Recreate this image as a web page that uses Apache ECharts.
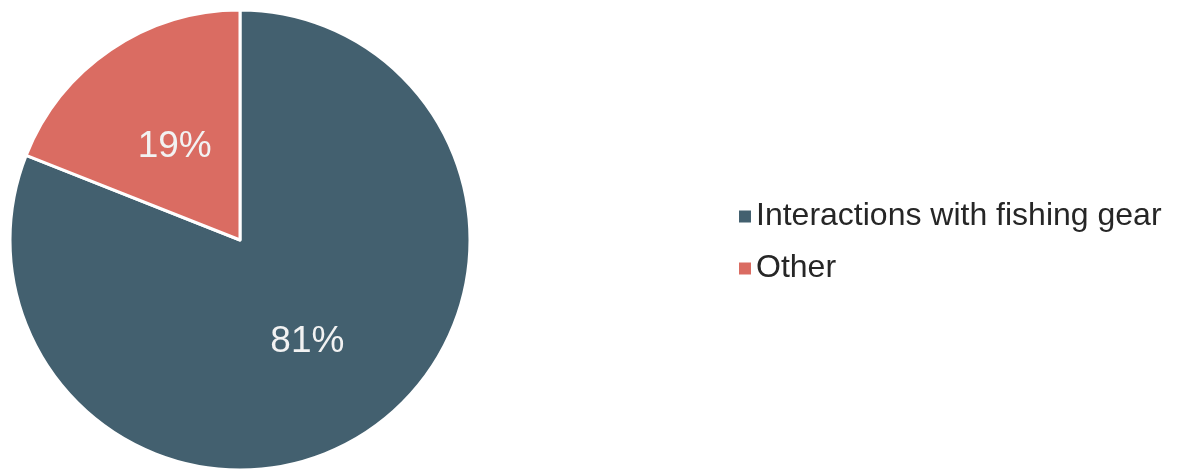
<!DOCTYPE html>
<html>
<head>
<meta charset="utf-8">
<script src="https://cdn.jsdelivr.net/npm/echarts@6/dist/echarts.min.js"></script>
<style>
html,body{margin:0;padding:0;background:#fff;}
#chart{width:1178px;height:470px;}
</style>
</head>
<body>
<div id="chart"></div>
<script>
const categories = ["Interactions with fishing gear", "Other"];
const values = [81, 19];
const colors = ["#43606F", "#DA6C62"];

const chart = echarts.init(document.getElementById('chart'), null, {renderer: 'canvas'});
chart.setOption({
  animation: false,
  color: colors,
  legend: {
    orient: 'vertical',
    left: 734,
    top: 195,
    itemWidth: 12,
    itemHeight: 12,
    itemGap: 19,
    icon: 'rect',
    data: categories,
    itemStyle: { borderWidth: 0 },
    textStyle: {
      fontFamily: 'Liberation Sans, Arial, sans-serif',
      fontSize: 32,
      lineHeight: 33,
      color: '#262626',
      padding: [0, 0, 0, 0]
    }
  },
  series: [{
    type: 'pie',
    center: [240, 240],
    radius: ['0%', 230],
    startAngle: 90,
    clockwise: true,
    data: categories.map((c, i) => ({name: c, value: values[i]})),
    itemStyle: { borderColor: '#ffffff', borderWidth: 3 },
    label: {
      show: true,
      position: 'inside',
      formatter: p => p.value + '%',
      fontFamily: 'Liberation Sans, Arial, sans-serif',
      fontSize: 37,
      color: '#F2F2F2',
      offset: [1, 4]
    },
    labelLine: { show: false },
    emphasis: { disabled: true }
  }]
});
</script>
</body>
</html>
